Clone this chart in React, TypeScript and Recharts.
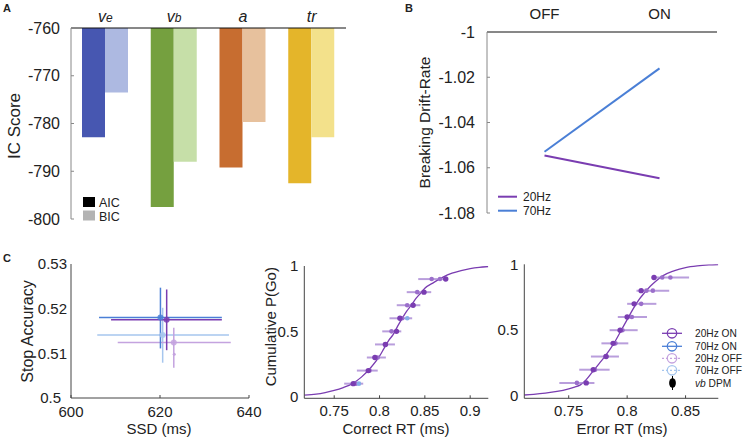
import React from 'react';
import {
  BarChart, Bar, Cell, XAxis, YAxis, LineChart, Line, ScatterChart, Scatter, ErrorBar, ComposedChart,
} from 'recharts';

const FONT = '"Liberation Sans", Arial, Helvetica, sans-serif';
const INK = '#222';
const AXIS_GRAY = '#888';
const AXIS_DARK = '#444';

const C20_ON = '#7a3db1';
const C70_ON = '#4a7fd6';
const C20_OFF = '#c4a3df';
const C70_OFF = '#a6c6ee';

// A: information criteria per model parameter
const params = ['ve', 'vb', 'a', 'tr'];
const aicScores = [-782.9, -797.5, -789.2, -792.5];
const bicScores = [-773.5, -788.0, -779.7, -782.9];
const aicColors = ['#4757b1', '#75a03f', '#c76d30', '#e4b52a'];
const bicColors = ['#adb9e1', '#c6dfa8', '#e7c19d', '#f3e18b'];
const icTicks = [-800, -790, -780, -770, -760];

// B: breaking drift-rate
const conditions = ['OFF', 'ON'];
const drift20 = [-1.0546, -1.0646];
const drift70 = [-1.0529, -1.0161];
const driftTicks = [-1.08, -1.06, -1.04, -1.02, -1];

// C left: stop accuracy vs SSD
const ssdGroups = ['70Hz OFF', '20Hz OFF', '70Hz ON', '20Hz ON'];
const ssdColors = [C70_OFF, C20_OFF, C70_ON, C20_ON];
const ssdMean = [620.6, 623.1, 620.1, 621.5];
const ssdLow = [605.9, 610.5, 606.3, 609.0];
const ssdHigh = [635.5, 635.9, 633.9, 633.9];
const accMean = [0.5141, 0.5124, 0.518, 0.5175];
const accLow = [0.5079, 0.5068, 0.5111, 0.5107];
const accHigh = [0.5202, 0.5157, 0.5247, 0.5243];
const dpmSsd = [623.2];
const dpmAcc = [0.5098];

// C middle: correct RT quantiles
const cdfLevels = [0.1, 0.2, 0.3, 0.4, 0.5, 0.6, 0.7, 0.8, 0.9];
const correctRtOn = [0.771, 0.7876, 0.7949, 0.8065, 0.8187, 0.8225, 0.837, 0.849, 0.873];
const correctRtOff = [0.774, 0.789, 0.798, 0.806, 0.8132, 0.825, 0.8305, 0.8416, 0.8575];
const correctLow = [0.761, 0.775, 0.786, 0.795, 0.803, 0.811, 0.819, 0.83, 0.8427];
const correctHigh = [0.782, 0.798, 0.807, 0.817, 0.824, 0.836, 0.845, 0.857, 0.8758];
const correctBlueRt = [0.7773, 0.8306];
const correctBlueP = [0.1, 0.6];
const correctExtraRt = [0.8667];
const correctExtraP = [0.9];
const correctCurveRt = [0.717, 0.73, 0.74, 0.75, 0.76, 0.77, 0.78, 0.79, 0.8, 0.805, 0.81, 0.815, 0.82, 0.825, 0.83, 0.835, 0.84, 0.845, 0.85, 0.86, 0.87, 0.88, 0.89, 0.9, 0.91, 0.92];
const correctCurveP = [0.012, 0.02, 0.032, 0.048, 0.07, 0.1, 0.15, 0.22, 0.31, 0.37, 0.43, 0.475, 0.54, 0.6, 0.655, 0.7, 0.75, 0.79, 0.83, 0.875, 0.915, 0.945, 0.965, 0.98, 0.99, 0.996];

// C right: error RT quantiles
const errorRtOn = [0.765, 0.771, 0.782, 0.788, 0.794, 0.8, 0.806, 0.812, 0.823];
const errorRtOff = [0.757, 0.7725, 0.7815, 0.79, 0.796, 0.804, 0.812, 0.8165, 0.83];
const errorLow = [0.742, 0.759, 0.769, 0.778, 0.785, 0.792, 0.8, 0.808, 0.821];
const errorHigh = [0.772, 0.785, 0.793, 0.801, 0.809, 0.817, 0.825, 0.836, 0.853];
const errorExtraRt = [0.822, 0.837];
const errorExtraP = [0.8, 0.9];
const errorCurveRt = [0.712, 0.72, 0.73, 0.74, 0.75, 0.755, 0.76, 0.765, 0.77, 0.775, 0.78, 0.785, 0.79, 0.795, 0.8, 0.805, 0.81, 0.815, 0.82, 0.825, 0.83, 0.84, 0.85, 0.86, 0.87, 0.878];
const errorCurveP = [0.008, 0.013, 0.022, 0.035, 0.055, 0.068, 0.085, 0.125, 0.18, 0.235, 0.29, 0.35, 0.42, 0.5, 0.58, 0.66, 0.73, 0.785, 0.835, 0.875, 0.91, 0.95, 0.975, 0.988, 0.995, 0.998];

const icData = params.map((p, i) => ({ param: p, aic: aicScores[i], bic: bicScores[i] }));
const driftData = conditions.map((c, i) => ({ x: i, hz20: drift20[i], hz70: drift70[i] }));

const pts = (xs: number[], ps: number[]) => xs.map((x, i) => ({ x, p: ps[i] }));
const withErr = (xs: number[], lo: number[], hi: number[]) =>
  xs.map((x, i) => ({ x, p: cdfLevels[i], err: [x - lo[i], hi[i] - x] }));
const curve = (xs: number[], ps: number[]) => xs.map((x, i) => ({ x, p: ps[i] }));

const fmtNum = (v: number) => String(v);

const LeftTick = (props: any) => {
  const { x, y, payload, gap, size = 15, stroke = AXIS_DARK, shiftLast = 0 } = props;
  const dx = payload.value === 0.5 && shiftLast ? -shiftLast : 0;
  return (
    <g>
      <line x1={x + gap} x2={x + gap + 3} y1={y} y2={y} stroke={stroke} />
      <text x={x + dx} y={y} dy="0.35em" textAnchor="end" fontSize={size} fill={INK} fontFamily={FONT}>
        {fmtNum(payload.value)}
      </text>
    </g>
  );
};

const BottomTick = (props: any) => {
  const { x, y, payload, gap } = props;
  return (
    <g>
      <line x1={x} x2={x} y1={y - gap} y2={y - gap - 3} stroke={AXIS_DARK} />
      <text x={x} y={y} dy="0.71em" textAnchor="middle" fontSize={15} fill={INK} fontFamily={FONT}>
        {fmtNum(payload.value)}
      </text>
    </g>
  );
};

const ParamTick = (props: any) => {
  const { x, y, payload } = props;
  const p = payload.value as string;
  const sub = p === 've' || p === 'vb';
  return (
    <text x={x} y={y} textAnchor="middle" fontSize={16} fontStyle="italic" fill={INK} fontFamily={FONT}>
      {sub ? 'v' : p}
      {sub && <tspan fontSize={12}>{p.slice(1)}</tspan>}
    </text>
  );
};

const CondTick = (props: any) => (
  <text x={props.x} y={props.y} textAnchor="middle" fontSize={15} fill={INK} fontFamily={FONT}>
    {conditions[props.payload.value]}
  </text>
);

const dot = (r: number, fill: string, opacity = 1) => (p: any) =>
  <circle cx={p.cx} cy={p.cy} r={r} fill={fill} fillOpacity={opacity} />;

function PanelA() {
  return (
    <BarChart width={360} height={230} data={icData} margin={{ top: 0, right: 14, bottom: 11, left: 0 }} barGap={0} barSize={23}>
      <XAxis dataKey="param" orientation="top" height={28} axisLine={{ stroke: '#111' }} tickLine={false} tickSize={0} tickMargin={6} tick={ParamTick} interval={0} />
      <YAxis domain={[-800, -760]} ticks={icTicks} width={71} allowDataOverflow axisLine={{ stroke: AXIS_GRAY }} tickLine={false} tickSize={0} tickMargin={11} interval={0}
        tick={(p: any) => <LeftTick {...p} gap={11} size={16} stroke={AXIS_GRAY} />} />
      <Bar dataKey="aic" isAnimationActive={false}>
        {icData.map((d, i) => <Cell key={d.param} fill={aicColors[i]} />)}
      </Bar>
      <Bar dataKey="bic" isAnimationActive={false}>
        {icData.map((d, i) => <Cell key={d.param} fill={bicColors[i]} />)}
      </Bar>
    </BarChart>
  );
}

function PanelB() {
  return (
    <LineChart width={367} height={230} data={driftData} margin={{ top: 0, right: 30, bottom: 17, left: 0 }}>
      <XAxis type="number" dataKey="x" domain={[-0.5, 1.5]} ticks={[0, 1]} orientation="top" height={32} axisLine={{ stroke: '#111' }} tickLine={false} tickSize={0} tickMargin={13} tick={CondTick} interval={0} />
      <YAxis domain={[-1.08, -1]} ticks={driftTicks} width={107} allowDataOverflow axisLine={{ stroke: AXIS_GRAY }} tickLine={false} tickSize={0} tickMargin={12} interval={0}
        tick={(p: any) => <LeftTick {...p} gap={12} size={16} stroke={AXIS_GRAY} />} />
      <Line dataKey="hz20" stroke={C20_ON} strokeWidth={2} dot={false} isAnimationActive={false} />
      <Line dataKey="hz70" stroke={C70_ON} strokeWidth={2} dot={false} isAnimationActive={false} />
    </LineChart>
  );
}

function PanelCLeft() {
  return (
    <ScatterChart width={272} height={190} margin={{ top: 14, right: 23, bottom: 0, left: 0 }}>
      <XAxis type="number" dataKey="x" domain={[600, 640]} ticks={[600, 620, 640]} height={42} allowDataOverflow axisLine={{ stroke: AXIS_DARK }} tickLine={false} tickSize={0} tickMargin={8} interval={0}
        tick={(p: any) => <BottomTick {...p} gap={8} />} />
      <YAxis type="number" dataKey="y" domain={[0.5, 0.53]} ticks={[0.5, 0.51, 0.52, 0.53]} width={71} allowDataOverflow axisLine={{ stroke: AXIS_DARK }} tickLine={false} tickSize={0} tickMargin={4} interval={0}
        tick={(p: any) => <LeftTick {...p} gap={4} shiftLast={6} />} />
      {ssdGroups.map((g, i) => (
        <Scatter key={g} name={g} isAnimationActive={false} shape={dot(3, ssdColors[i], 0.85)}
          data={[{ x: ssdMean[i], y: accMean[i], ex: [ssdMean[i] - ssdLow[i], ssdHigh[i] - ssdMean[i]], ey: [accMean[i] - accLow[i], accHigh[i] - accMean[i]] }]}>
          <ErrorBar dataKey="ex" direction="x" width={0} stroke={ssdColors[i]} strokeWidth={1.5} />
          <ErrorBar dataKey="ey" direction="y" width={0} stroke={ssdColors[i]} strokeWidth={1.5} />
        </Scatter>
      ))}
      <Scatter name="vb DPM" isAnimationActive={false} shape={dot(1.5, C20_OFF)} data={dpmSsd.map((x, i) => ({ x, y: dpmAcc[i] }))} />
    </ScatterChart>
  );
}

function QuantilePanel(props: {
  width: number; top: number; right: number; yWidth: number; xDomain: [number, number]; xTicks: number[];
  yMin: number; curveData: any[]; offData: any[]; onData: any[]; extraData: any[]; blueData: any[];
}) {
  const { width, top, right, yWidth, xDomain, xTicks, yMin, curveData, offData, onData, extraData, blueData } = props;
  return (
    <ComposedChart width={width} height={190} margin={{ top, right, bottom: 0, left: 0 }}>
      <XAxis type="number" dataKey="x" domain={xDomain} ticks={xTicks} height={41.7} allowDataOverflow axisLine={{ stroke: AXIS_DARK }} tickLine={false} tickSize={0} tickMargin={7} interval={0}
        tick={(p: any) => <BottomTick {...p} gap={7} />} />
      <YAxis type="number" dataKey="p" domain={[yMin, 1]} ticks={[0, 0.5, 1]} width={yWidth} allowDataOverflow axisLine={{ stroke: AXIS_DARK }} tickLine={false} tickSize={0} tickMargin={6} interval={0}
        tick={(p: any) => <LeftTick {...p} gap={6} />} />
      <Line data={curveData} dataKey="p" type="monotone" stroke={C20_ON} strokeWidth={1.3} dot={false} isAnimationActive={false} />
      <Scatter data={offData} isAnimationActive={false} shape={dot(2.3, '#9b6fcb')}>
        <ErrorBar dataKey="err" direction="x" width={0} stroke="#a27dd0" strokeOpacity={0.75} strokeWidth={2} />
      </Scatter>
      <Scatter data={extraData} isAnimationActive={false} shape={dot(2.3, '#9b6fcb')} />
      <Scatter data={blueData} isAnimationActive={false} shape={dot(2.3, '#86aee8')} />
      <Scatter data={onData} isAnimationActive={false} shape={dot(2.7, C20_ON)} />
    </ComposedChart>
  );
}

function Overlay() {
  const t = { fontFamily: FONT, fill: INK } as const;
  const legendRows = [
    { label: '20Hz ON', color: C20_ON, dash: undefined, y: 333.3 },
    { label: '70Hz ON', color: C70_ON, dash: undefined, y: 346.3 },
    { label: '20Hz OFF', color: C20_OFF, dash: '2 2', y: 358.3 },
    { label: '70Hz OFF', color: C70_OFF, dash: '2 2', y: 370.3 },
  ];
  return (
    <svg width={747} height={440} style={{ position: 'absolute', left: 0, top: 0, pointerEvents: 'none' }}>
      <text x={3} y={12} fontSize={11} fontWeight="bold" {...t}>A</text>
      <text x={405} y={12} fontSize={11} fontWeight="bold" {...t}>B</text>
      <text x={3} y={262} fontSize={11} fontWeight="bold" {...t}>C</text>

      <text x={20} y={126} fontSize={17} textAnchor="middle" transform="rotate(-90 20 126)" {...t}>IC Score</text>
      <rect x={83} y={197} width={12} height={10} fill="#000" />
      <text x={99} y={206.5} fontSize={12.5} {...t}>AIC</text>
      <rect x={83} y={210.5} width={12} height={10} fill="#b3b3b3" />
      <text x={99} y={220.5} fontSize={12.5} {...t}>BIC</text>

      <text x={430} y={122.5} fontSize={15.5} textAnchor="middle" transform="rotate(-90 430 122.5)" {...t}>Breaking Drift-Rate</text>
      <line x1={498} x2={517} y1={196.7} y2={196.7} stroke={C20_ON} strokeWidth={2} />
      <text x={523} y={201} fontSize={12} {...t}>20Hz</text>
      <line x1={498} x2={517} y1={210.7} y2={210.7} stroke={C70_ON} strokeWidth={2} />
      <text x={523} y={215} fontSize={12} {...t}>70Hz</text>

      <text x={33} y={331.5} fontSize={16} textAnchor="middle" transform="rotate(-90 33 331.5)" {...t}>Stop Accuracy</text>
      <text x={159} y={434} fontSize={15} textAnchor="middle" {...t}>SSD (ms)</text>
      <text x={276} y={326.7} fontSize={15} textAnchor="middle" transform="rotate(-90 276 326.7)" {...t}>Cumulative P(Go)</text>
      <text x={396} y={434} fontSize={15} textAnchor="middle" {...t}>Correct RT (ms)</text>
      <text x={622} y={434} fontSize={15} textAnchor="middle" {...t}>Error RT (ms)</text>

      {legendRows.map((r) => (
        <g key={r.label}>
          <line x1={662} x2={682} y1={r.y} y2={r.y} stroke={r.color} strokeWidth={1.3} strokeDasharray={r.dash} />
          <circle cx={672} cy={r.y} r={4.7} fill="#fff" fillOpacity={0} stroke={r.color} strokeWidth={1.3} />
          <text x={695} y={r.y + 3.6} fontSize={10.2} {...t}>{r.label}</text>
        </g>
      ))}
      <line x1={672.5} x2={672.5} y1={376} y2={390} stroke="#000" strokeWidth={1} />
      <ellipse cx={672.5} cy={383} rx={3.4} ry={4.8} fill="#000" />
      <text x={695} y={386.6} fontSize={10.2} {...t}><tspan fontStyle="italic">vb</tspan> DPM</text>
    </svg>
  );
}

export default function App() {
  return (
    <div style={{ position: 'absolute', left: 0, top: 0, width: 747, height: 440, background: '#fff', overflow: 'hidden', fontFamily: FONT }}>
      <div style={{ position: 'absolute', left: 0, top: 0 }}><PanelA /></div>
      <div style={{ position: 'absolute', left: 380, top: 0 }}><PanelB /></div>
      <div style={{ position: 'absolute', left: 0, top: 250 }}><PanelCLeft /></div>
      <div style={{ position: 'absolute', left: 250, top: 250 }}>
        <QuantilePanel width={250} top={16} right={11.7} yWidth={54.3} xDomain={[0.717, 0.92]} xTicks={[0.75, 0.8, 0.85, 0.9]} yMin={-0.012}
          curveData={curve(correctCurveRt, correctCurveP)}
          offData={withErr(correctRtOff, correctLow, correctHigh)}
          onData={pts(correctRtOn, cdfLevels)}
          extraData={pts(correctExtraRt, correctExtraP)}
          blueData={pts(correctBlueRt, correctBlueP)} />
      </div>
      <div style={{ position: 'absolute', left: 490, top: 250 }}>
        <QuantilePanel width={257} top={14.3} right={28.7} yWidth={34.3} xDomain={[0.712, 0.878]} xTicks={[0.75, 0.8, 0.85]} yMin={-0.017}
          curveData={curve(errorCurveRt, errorCurveP)}
          offData={withErr(errorRtOff, errorLow, errorHigh)}
          onData={pts(errorRtOn, cdfLevels)}
          extraData={pts(errorExtraRt, errorExtraP)}
          blueData={[]} />
      </div>
      <Overlay />
    </div>
  );
}
